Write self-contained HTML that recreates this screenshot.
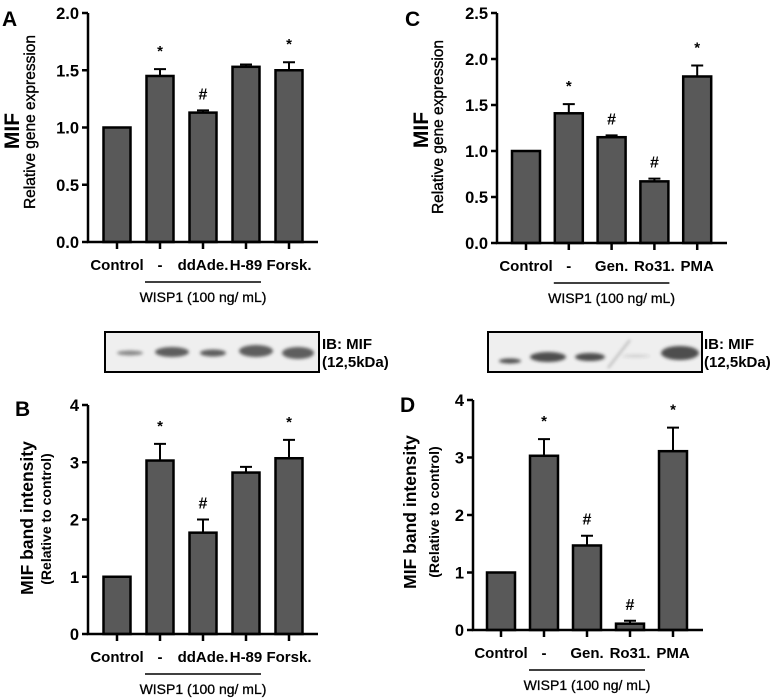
<!DOCTYPE html>
<html><head><meta charset="utf-8"><style>
body{margin:0;background:#fff}
svg{display:block;font-family:"Liberation Sans",Arial,sans-serif}
</style></head><body>
<svg id="fig" width="774" height="700" viewBox="0 0 774 700">
<defs><filter id="bl" x="-20%" y="-50%" width="140%" height="200%"><feGaussianBlur stdDeviation="1.5"/></filter></defs>
<g>
<rect x="105" y="332" width="214" height="40" fill="#efefef" stroke="#000" stroke-width="2"/>
<g fill="#444" opacity="0.85" filter="url(#bl)">
<ellipse cx="130" cy="353" rx="13" ry="2.5" opacity="0.7"/>
<ellipse cx="172" cy="352" rx="17" ry="5"/>
<ellipse cx="213" cy="353" rx="13" ry="3.5"/>
<ellipse cx="256" cy="351" rx="17" ry="6"/>
<ellipse cx="298" cy="353" rx="16" ry="6"/>
</g></g>
<text x="322" y="349" font-size="15" font-weight="bold">IB: MIF</text>
<text x="322" y="367" font-size="15" font-weight="bold">(12,5kDa)</text>
<g>
<rect x="488" y="332" width="214" height="40" fill="#efefef" stroke="#000" stroke-width="2"/>
<g fill="#333" opacity="0.85" filter="url(#bl)">
<ellipse cx="510" cy="361" rx="11" ry="2.5"/>
<ellipse cx="548" cy="357" rx="18" ry="5"/>
<ellipse cx="590" cy="357" rx="15" ry="4"/>
<line x1="608" y1="368" x2="630" y2="340" stroke="#999" stroke-width="1.5"/>
<ellipse cx="636" cy="356" rx="14" ry="1.5" opacity="0.2"/>
<ellipse cx="680" cy="353" rx="19" ry="7"/>
</g></g>
<text x="704" y="349" font-size="15" font-weight="bold">IB: MIF</text>
<text x="704" y="367" font-size="15" font-weight="bold">(12,5kDa)</text>
</svg>
<script>
const catsAB = ["Control","-","ddAde.","H-89","Forsk."];
const catsCD = ["Control","-","Gen.","Ro31.","PMA"];
const valsA = [1, 1.45, 1.13, 1.53, 1.50];
const errA  = [0, 0.06, 0.02, 0.02, 0.07];
const markA = ["", "*", "#", "", "*"];
const ticksA = ["0.0","0.5","1.0","1.5","2.0"];
const valsC = [1, 1.41, 1.15, 0.67, 1.81];
const errC  = [0, 0.10, 0.02, 0.03, 0.12];
const markC = ["", "*", "#", "#", "*"];
const ticksC = ["0.0","0.5","1.0","1.5","2.0","2.5"];
const valsB = [1, 3.03, 1.77, 2.82, 3.07];
const errB  = [0, 0.29, 0.23, 0.10, 0.32];
const markB = ["", "*", "#", "", "*"];
const ticksB = ["0","1","2","3","4"];
const valsD = [1, 3.03, 1.47, 0.11, 3.11];
const errD  = [0, 0.29, 0.17, 0.05, 0.41];
const markD = ["", "*", "#", "#", "*"];
const ticksD = ["0","1","2","3","4"];

const NS="http://www.w3.org/2000/svg";
const svg=document.getElementById('fig');
function mk(tag,attrs,parent,txt){const e=document.createElementNS(NS,tag);for(const k in attrs)e.setAttribute(k,attrs[k]);if(txt!==undefined)e.textContent=txt;(parent||svg).appendChild(e);return e;}

function panel(o){
  const g=mk('g',{});
  
  
  const ymax=parseFloat(o.ticks[o.ticks.length-1]);
  const y=v=>o.y0-(v/ymax)*(o.y0-o.yTop);
  const x=i=>o.x0+i*o.dx;
  o.vals.forEach((v,i)=>{
    const b=mk('rect',{x:x(i)-o.bw/2,y:y(v),width:o.bw,height:o.y0-y(v),fill:'#595959',stroke:'#000','stroke-width':2.5},g);
    
    
    if(o.err[i]>0){
      const ye=y(v+o.err[i]);
      const eb=mk('path',{d:`M${x(i)} ${y(v)}V${ye}M${x(i)-6} ${ye}H${x(i)+6}`,stroke:'#000','stroke-width':2,fill:'none'},g);
      
      
    }
    if(o.marks[i]){
      const top=y(v+o.err[i]);
      const m=mk('text',{x:x(i),y:o.marks[i]=='*'?top-13:top-11,'text-anchor':'middle','font-size':o.marks[i]=='*'?15:16,'font-weight':'bold'},g,o.marks[i]);
      
      
    }
  });
  const ax=mk('path',{d:`M${o.axX} ${o.yTop}V${o.y0}H${o.xEnd}`,stroke:'#000','stroke-width':2.5,fill:'none'},g);
  
  
  o.ticks.forEach(t=>{
    const yy=y(parseFloat(t));
    mk('line',{x1:o.axX-6,x2:o.axX,y1:yy,y2:yy,stroke:'#000','stroke-width':2.5},g);
    const tl=mk('text',{x:o.axX-9,y:yy+6,'text-anchor':'end','font-size':16.5,'font-weight':'bold'},g,t);
    
    
  });
  o.cats.forEach((c,i)=>{
    mk('line',{x1:x(i),x2:x(i),y1:o.y0,y2:o.y0+7,stroke:'#000','stroke-width':2.5},g);
    const cl=mk('text',{x:x(i),y:o.y0+28,'text-anchor':'middle','font-size':15,'font-weight':'bold'},g,c);
    
    
  });
  const wl=mk('line',{x1:x(1)-15,x2:x(3)+15,y1:o.y0+40,y2:o.y0+40,stroke:'#000','stroke-width':1.5},g);
  
  
  const wt=mk('text',{x:(x(1)+x(3))/2,y:o.y0+60,'text-anchor':'middle','font-size':14,'stroke':'#000','stroke-width':0.3},g,'WISP1 (100 ng/ mL)');
  
  
  const lt=mk('text',{x:o.lx,y:o.ly,'font-size':21,'font-weight':'bold'},g,o.id.toUpperCase());
  
  
  const t1=mk('text',{transform:`translate(${o.t1x},${o.tcy}) rotate(-90)`,'text-anchor':'middle','font-size':o.t1s,'font-weight':'bold'},g,o.t1);
  
  
  const t2=mk('text',{transform:`translate(${o.t2x},${o.tcy2}) rotate(-90)`,'text-anchor':'middle','font-size':o.t2s,'font-weight':o.t2w,'stroke':'#000','stroke-width':o.t2w=='bold'?0:0.35},g,o.t2);
  
  
}
panel({id:'a',cats:catsAB,vals:valsA,err:errA,marks:markA,ticks:ticksA,x0:117,dx:43,bw:27,y0:242,yTop:13,axX:88,xEnd:318,lx:2,ly:26,t1:'MIF',t1x:19,tcy:131,t1s:21,t2:'Relative gene expression',t2x:35,tcy2:122,t2s:15.5,t2w:'normal'});
panel({id:'c',cats:catsCD,vals:valsC,err:errC,marks:markC,ticks:ticksC,x0:526,dx:42.8,bw:28,y0:243,yTop:13,axX:497,xEnd:727,lx:405,ly:26,t1:'MIF',t1x:428,tcy:130,t1s:21,t2:'Relative gene expression',t2x:443,tcy2:127,t2s:15.5,t2w:'normal'});
panel({id:'b',cats:catsAB,vals:valsB,err:errB,marks:markB,ticks:ticksB,x0:117,dx:43,bw:27,y0:634,yTop:405,axX:88,xEnd:318,lx:15,ly:416,t1:'MIF band intensity',t1x:33,tcy:518,t1s:17.5,t2:'(Relative to control)',t2x:51,tcy2:519,t2s:14,t2w:'bold'});
panel({id:'d',cats:catsCD,vals:valsD,err:errD,marks:markD,ticks:ticksD,x0:501,dx:43,bw:28,y0:630,yTop:400,axX:473,xEnd:703,lx:400,ly:412,t1:'MIF band intensity',t1x:416,tcy:512,t1s:17.5,t2:'(Relative to control)',t2x:439,tcy2:512,t2s:14,t2w:'bold'});
</script>
</body></html>
